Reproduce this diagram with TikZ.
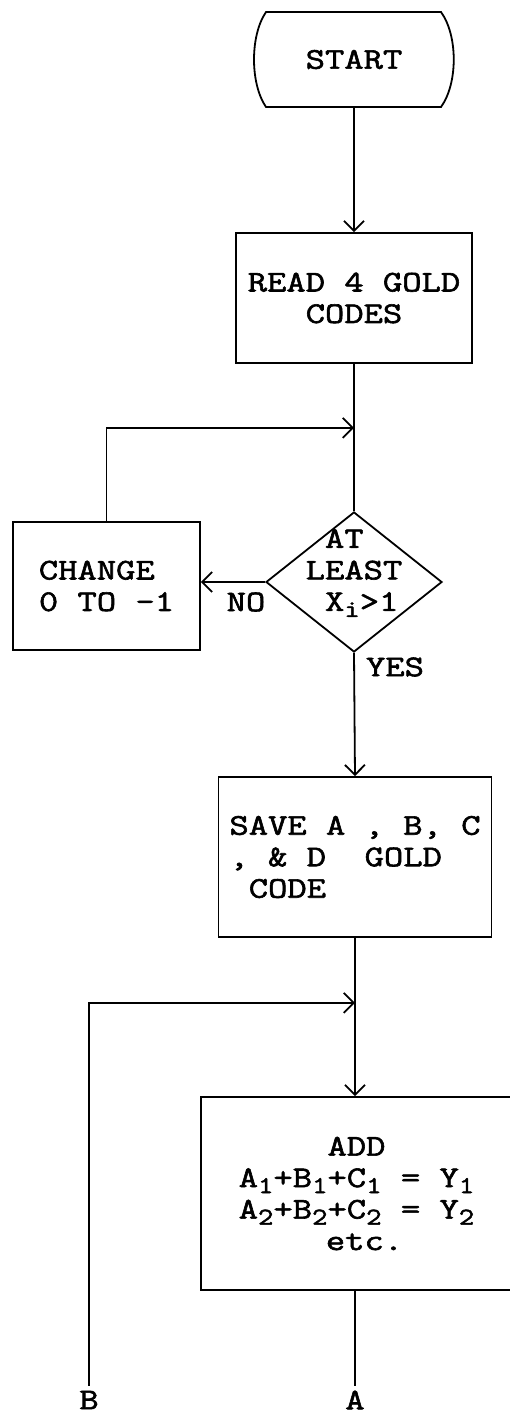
\documentclass[tikz,border=0pt]{standalone}
\usepackage{fontspec}
\setmonofont{Latin Modern Mono}[FakeStretch=1.25, FakeBold=2]
\usetikzlibrary{shapes.geometric,arrows.meta,calc}
% lowered, smaller index digit/letter (no effect on line spacing)
\newcommand\sbs[1]{\raisebox{-6pt}[0pt][0pt]{\fontsize{24}{24}\selectfont #1}}
\begin{document}
\begin{tikzpicture}[x=1pt,y=-1pt,
  line width=1.8pt,
  txt/.style={font=\ttfamily\fontsize{30}{31.5}\selectfont, inner sep=0pt},
  box/.style={txt, draw, rectangle, align=center},
  arr/.style={-{Straight Barb[length=10pt,width=20pt]}},
]
\useasboundingbox (0,0) rectangle (510,1414);
\clip (0,0) rectangle (510,1414);

% terminal
\node[txt, minimum width=200pt, minimum height=95pt] (start) at (354,59.5) {START};
\draw[shift={(start.center)}]
  (-88,-47.5) -- (87,-47.5)
  .. controls (104,-24) and (104,24) .. (87,47.5)
  -- (-88,47.5)
  .. controls (-104,24) and (-104,-24) .. (-88,-47.5) -- cycle;

% process boxes
\node[box, minimum width=236pt, minimum height=130pt] (read) at (354,298) {READ 4 GOLD\\CODES};
\node[draw, diamond, minimum width=176pt, minimum height=140pt, inner sep=0pt] (dec) at (354,582) {};
\node[txt, align=left] (dectxt) at (354,570) {~AT\\LEAST\\~X\sbs{i}>1};
\node[box, align=left, minimum width=187pt, minimum height=128pt] (change) at (106.5,586) {CHANGE\\0 TO -1};
\node[box, align=left, minimum width=273pt, minimum height=160pt] (save) at (355,857) {SAVE A , B, C\\, \& D~~GOLD\\~CODE};
\node[box, minimum width=311pt, minimum height=193pt] (add) at (356.5,1193.5)
  {ADD\\A\sbs{1}+B\sbs{1}+C\sbs{1} = Y\sbs{1}\\A\sbs{2}+B\sbs{2}+C\sbs{2} = Y\sbs{2}\\\hspace*{16pt}etc.};

% branch labels and off-page connectors
\node[txt] (no) at (246,602) {NO};
\node[txt] (yes) at (395,667) {YES};
\node[txt, inner ysep=4pt] (labB) at (89,1400) {B};
\node[txt, inner ysep=4pt] (labA) at (355,1400) {A};

% junction points
\path (read.south) ++(0,64) coordinate (j1);
\path (save.south) ++(0,65) coordinate (j2);

% connectors
\draw[arr] (start.south) -- (read.north);
\draw (read.south) -- (dec.north);
\draw[arr] (change.north) |- (j1);
\draw[arr] (dec.west) -- (dec.west -| change.east);
\draw[arr] (dec.south) -- (save.north);
\draw[arr] (save.south) -- (save.south |- add.north);
\draw[arr] (labB.north) |- (j2);
\draw (labA.north |- add.south) -- (labA.north);
\end{tikzpicture}
\end{document}
